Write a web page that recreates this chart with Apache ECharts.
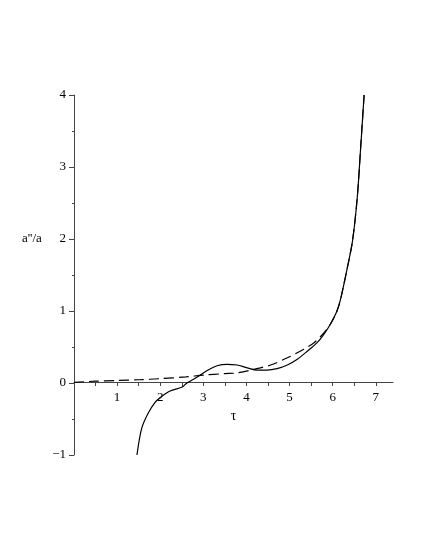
<!DOCTYPE html>
<html>
<head>
<meta charset="utf-8">
<script src="https://cdn.jsdelivr.net/npm/echarts@6/dist/echarts.min.js"></script>
<style>
  html, body { margin: 0; padding: 0; background: #fff; }
  #chart { width: 425px; height: 550px; }
</style>
</head>
<body>
<div id="chart"></div>
<script>
// solid curve
var tauSolid = [1.46, 1.57, 1.72, 1.88, 2.0, 2.23, 2.5, 2.62, 2.85, 3.08, 3.32, 3.55, 3.78, 4.02, 4.25, 4.48, 4.71, 4.95, 5.18, 5.41, 5.64, 5.8, 5.95, 6.1, 6.19, 6.34, 6.46, 6.57, 6.65, 6.73]
var accSolid = [-1.0, -0.63, -0.42, -0.27, -0.2, -0.11, -0.06, 0.0, 0.08, 0.17, 0.24, 0.26, 0.25, 0.21, 0.18, 0.18, 0.2, 0.25, 0.33, 0.44, 0.56, 0.68, 0.82, 1.0, 1.18, 1.6, 1.97, 2.57, 3.27, 4.0]
// dashed curve
var tauDash = [0, 0.5, 1.0, 1.5, 2.0, 2.6, 3.0, 3.5, 3.78, 4.17, 4.56, 4.95, 5.33, 5.57, 5.8, 5.95, 6.1, 6.19, 6.34, 6.46, 6.57, 6.65, 6.73]
var accDash = [0.01, 0.025, 0.035, 0.045, 0.06, 0.085, 0.11, 0.13, 0.14, 0.19, 0.25, 0.35, 0.47, 0.56, 0.7, 0.82, 1.0, 1.18, 1.6, 1.97, 2.57, 3.27, 4.0]
// tick values
var xTicks = [0, 0.5, 1, 1.5, 2, 2.5, 3, 3.5, 4, 4.5, 5, 5.5, 6, 6.5, 7]
var xLabels = [1, 2, 3, 4, 5, 6, 7]

function pairs (xs, ys) {
  return xs.map(function (x, i) { return [x, ys[i]] })
}

var serif = 'Liberation Serif'
var axisColor = '#444'
var chart = echarts.init(document.getElementById('chart'))
chart.setOption({
  animation: false,
  grid: [
    { left: 74, right: 32, top: 95, bottom: 95 },
    // upper half only, so its bottom edge sits on y = 0
    { left: 74, right: 32, top: 95, bottom: 168 }
  ],
  xAxis: [
    { type: 'value', gridIndex: 0, min: 0, max: 7.4, show: false },
    {
      type: 'value',
      gridIndex: 1,
      min: 0,
      max: 7.4,
      interval: 1,
      name: 'τ',
      nameLocation: 'middle',
      nameGap: 27,
      nameTextStyle: { fontFamily: serif, fontSize: 14, color: '#000' },
      axisLine: { onZero: false, lineStyle: { color: axisColor, width: 1 } },
      axisTick: { show: true, length: 4, customValues: xTicks, lineStyle: { color: axisColor } },
      axisLabel: { customValues: xLabels, margin: 9, fontFamily: serif, fontSize: 13, color: '#000' },
      splitLine: { show: false }
    }
  ],
  yAxis: [
    {
      type: 'value',
      gridIndex: 0,
      min: -1,
      max: 4,
      interval: 1,
      axisLine: { show: true, onZero: false, lineStyle: { color: axisColor, width: 1 } },
      axisTick: { show: true, length: 5, lineStyle: { color: axisColor } },
      minorTick: { show: true, splitNumber: 2, length: 2, lineStyle: { color: axisColor } },
      axisLabel: {
        margin: 8,
        fontFamily: serif,
        fontSize: 13,
        color: '#000',
        formatter: function (v) { return v < 0 ? '\u2212' + (-v) : String(v) }
      },
      splitLine: { show: false }
    },
    { type: 'value', gridIndex: 1, min: 0, max: 4, show: false }
  ],
  graphic: [{
    type: 'text',
    left: 22,
    top: 232,
    style: { text: "a''/a", fontFamily: serif, fontSize: 13, fill: '#000' }
  }],
  series: [
    {
      type: 'line',
      xAxisIndex: 0,
      yAxisIndex: 0,
      data: pairs(tauSolid, accSolid),
      showSymbol: false,
      smooth: 0.3,
      lineStyle: { color: '#000', width: 1.2 }
    },
    {
      type: 'line',
      xAxisIndex: 0,
      yAxisIndex: 0,
      data: pairs(tauDash, accDash),
      showSymbol: false,
      smooth: 0.3,
      lineStyle: { color: '#000', width: 1.2, type: [10, 5] }
    }
  ]
})
</script>
</body>
</html>
